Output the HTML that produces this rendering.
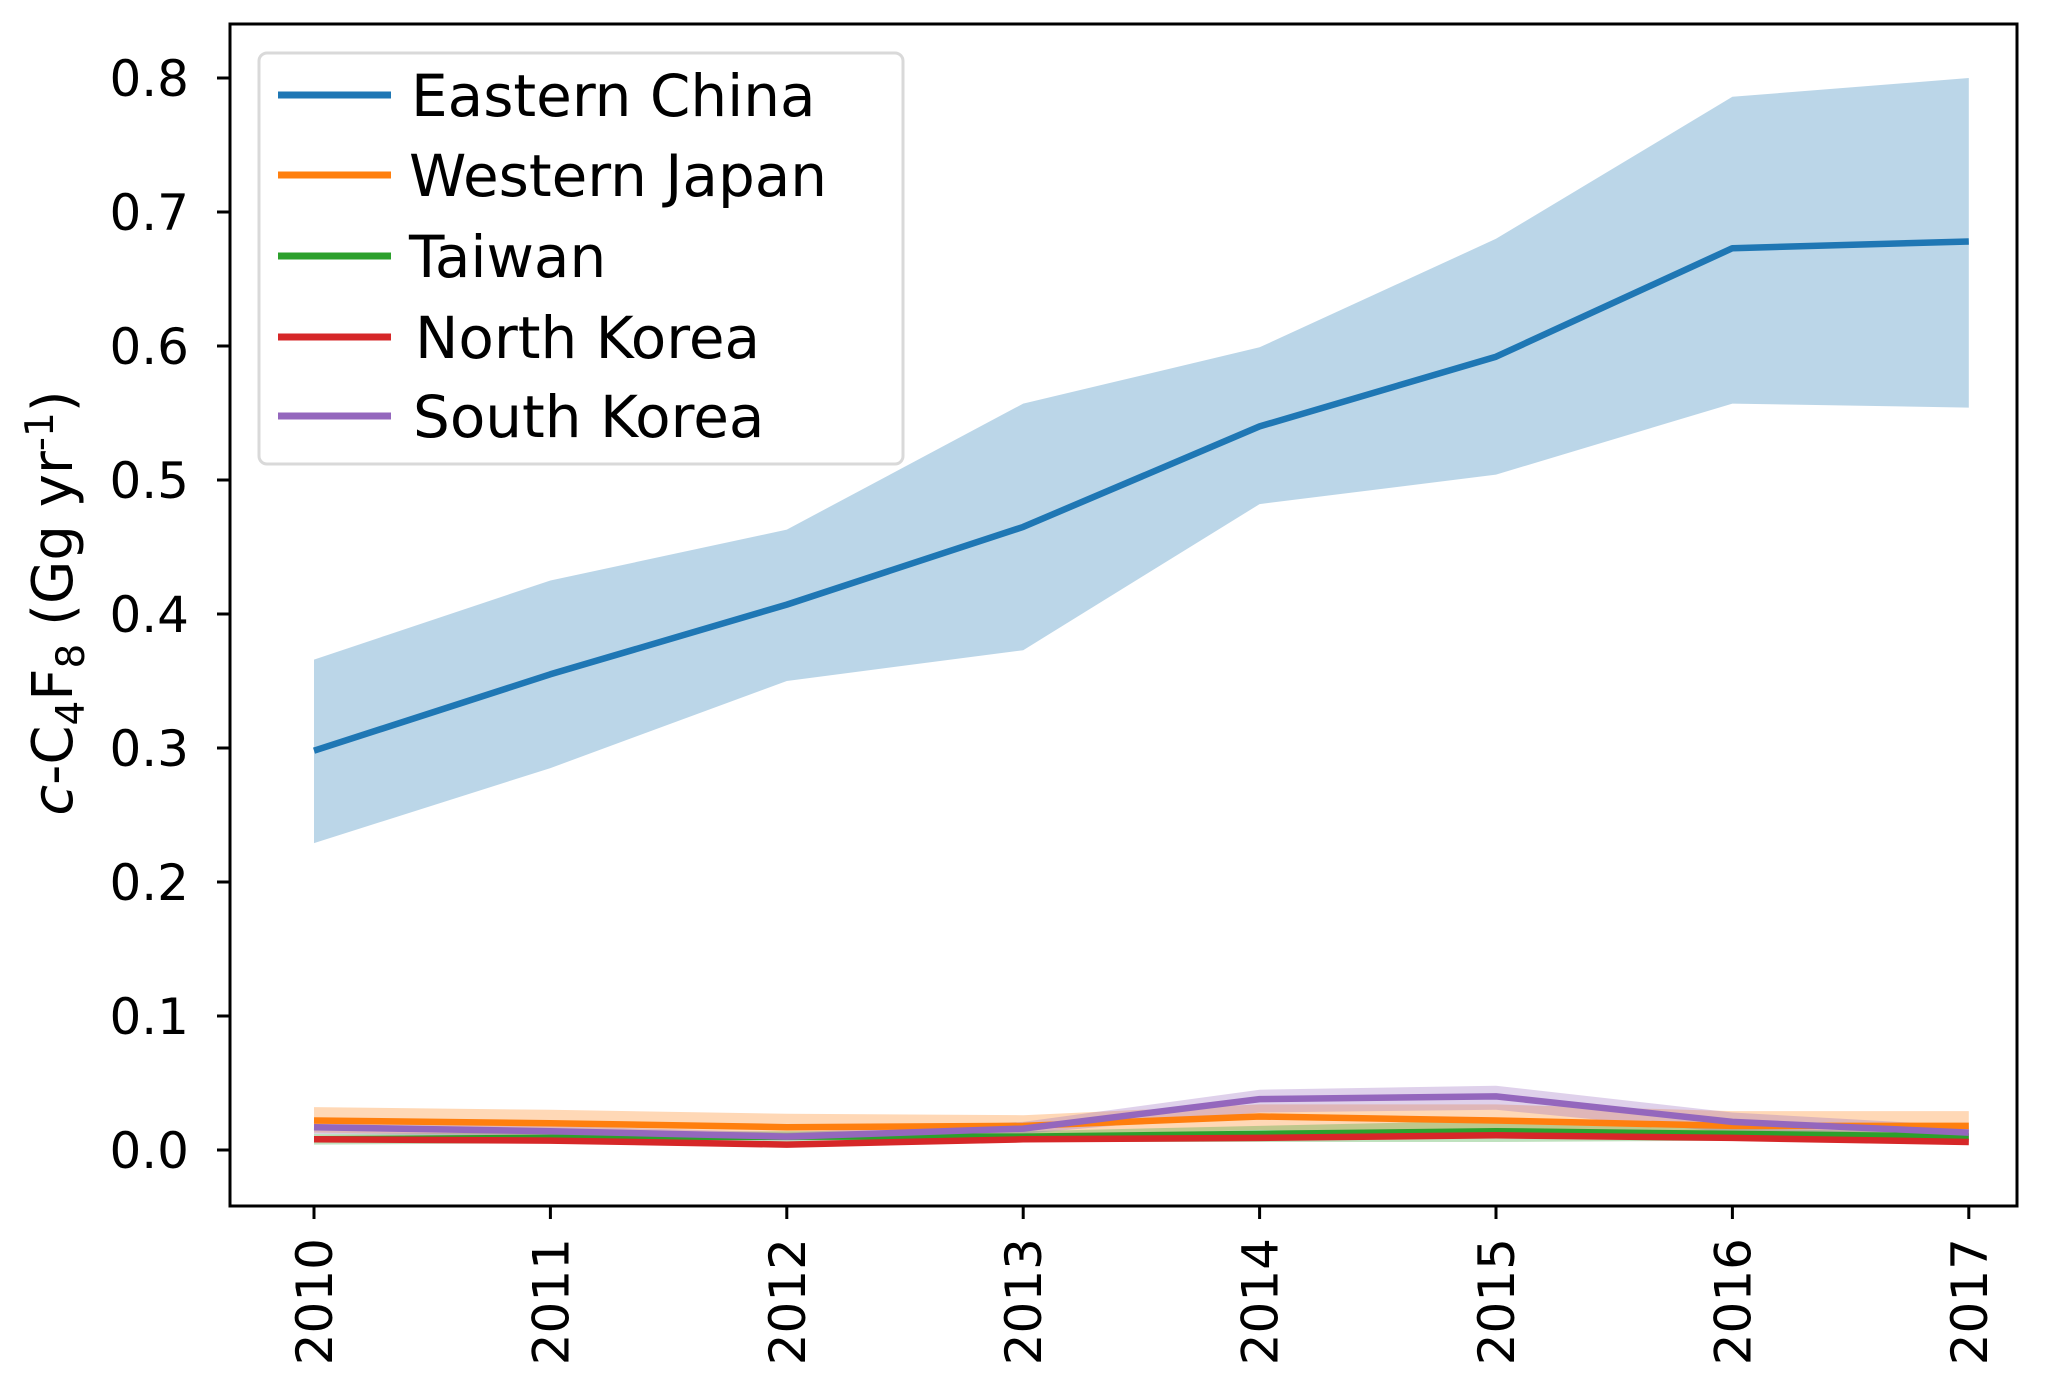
<!DOCTYPE html>
<html><head><meta charset="utf-8"><style>
html,body{margin:0;padding:0;background:#fff;}
svg{display:block;font-family:"DejaVu Sans","Liberation Sans",sans-serif;}
</style></head><body>
<svg id="chart" width="2067" height="1396" viewBox="0 0 2067 1396">
<g id="plot"></g>
</svg>
<script>
const years = [2010,2011,2012,2013,2014,2015,2016,2017];
const yTicks = [0.0,0.1,0.2,0.3,0.4,0.5,0.6,0.7,0.8];
const yTickLabels = ["0.0","0.1","0.2","0.3","0.4","0.5","0.6","0.7","0.8"];
const seriesNames = ["Eastern China","Western Japan","Taiwan","North Korea","South Korea"];
const chinaMean = [0.298,0.355,0.407,0.465,0.540,0.592,0.673,0.678];
const chinaUpper = [0.366,0.425,0.463,0.557,0.599,0.680,0.786,0.800];
const chinaLower = [0.229,0.285,0.350,0.373,0.482,0.504,0.557,0.554];
const japanMean = [0.022,0.020,0.017,0.018,0.025,0.022,0.018,0.018];
const japanUpper = [0.032,0.030,0.027,0.026,0.034,0.034,0.029,0.029];
const japanLower = [0.013,0.011,0.008,0.010,0.015,0.012,0.008,0.008];
const taiwanMean = [0.008,0.009,0.010,0.010,0.012,0.014,0.012,0.010];
const taiwanUpper = [0.012,0.013,0.014,0.014,0.018,0.022,0.016,0.013];
const taiwanLower = [0.004,0.005,0.006,0.006,0.006,0.006,0.007,0.006];
const nkMean = [0.008,0.007,0.004,0.008,0.009,0.011,0.009,0.006];
const nkUpper = [0.010,0.009,0.006,0.010,0.011,0.013,0.011,0.008];
const nkLower = [0.006,0.005,0.002,0.006,0.007,0.009,0.007,0.004];
const skMean = [0.017,0.014,0.010,0.016,0.038,0.040,0.021,0.013];
const skUpper = [0.021,0.018,0.013,0.021,0.045,0.048,0.028,0.018];
const skLower = [0.012,0.010,0.007,0.012,0.028,0.030,0.013,0.008];

const NS="http://www.w3.org/2000/svg";
const L=230,R=2017,T=24,B=1206;
const x0=314,xStep=236.4;
const xs=i=>x0+i*xStep;
const ys=v=>1150-v*1340;
const plot=document.getElementById('plot');
function el(tag,attrs,parent){const e=document.createElementNS(NS,tag);for(const k in attrs)e.setAttribute(k,attrs[k]);(parent||plot).appendChild(e);return e;}
function lineD(arr){return arr.map((v,i)=>(i?'L':'M')+xs(i).toFixed(1)+','+ys(v).toFixed(1)).join(' ');}
function bandD(up,lo){let d=lineD(up);for(let i=lo.length-1;i>=0;i--)d+=' L'+xs(i).toFixed(1)+','+ys(lo[i]).toFixed(1);return d+' Z';}

const colors=["#1f77b4","#ff7f0e","#2ca02c","#d62728","#9467bd"];
const means=[chinaMean,japanMean,taiwanMean,nkMean,skMean];
const uppers=[chinaUpper,japanUpper,taiwanUpper,nkUpper,skUpper];
const lowers=[chinaLower,japanLower,taiwanLower,nkLower,skLower];
const keys=["eastern-china","western-japan","taiwan","north-korea","south-korea"];

for(let s=0;s<5;s++){
  const b=el('path',{d:bandD(uppers[s],lowers[s]),fill:colors[s],'fill-opacity':0.3,stroke:'none'});
  
  
}
for(let s=0;s<5;s++){
  const p=el('path',{d:lineD(means[s]),fill:'none',stroke:colors[s],'stroke-width':6.5,'stroke-linejoin':'round'});
  
  
}

const frame=el('rect',{x:L,y:T,width:R-L,height:B-T,fill:'none',stroke:'#000','stroke-width':3});



yTicks.forEach((v,i)=>{
  const y=ys(v);
  const t=el('line',{x1:L-13,x2:L,y1:y,y2:y,stroke:'#000','stroke-width':3});
  
  
  const lb=el('text',{x:189,y:y+18,'text-anchor':'end','font-size':50,fill:'#000'});
  lb.textContent=yTickLabels[i];
  
  
});
years.forEach((yr,i)=>{
  const x=xs(i);
  const t=el('line',{x1:x,x2:x,y1:B,y2:B+13,stroke:'#000','stroke-width':3});
  
  
  const lb=el('text',{x:0,y:0,'text-anchor':'end','font-size':50,fill:'#000',transform:`translate(${x+18},1238) rotate(-90)`});
  lb.textContent=yr;
  
  
});

const yt=el('text',{x:0,y:0,'text-anchor':'middle','font-size':56,fill:'#000',transform:'translate(72,603) rotate(-90)'});
yt.innerHTML='<tspan font-style="italic">c</tspan>-C<tspan font-size="39" dy="12">4</tspan><tspan dy="-12">F</tspan><tspan font-size="39" dy="12">8</tspan><tspan dy="-12"> (Gg yr</tspan><tspan font-size="39" dy="-19">-1</tspan><tspan dy="19">)</tspan>';



const leg=el('g',{});


el('rect',{x:259,y:53,width:644,height:411,rx:8,fill:'#fff','fill-opacity':0.8,stroke:'#d9d9d9','stroke-width':3},leg);
const rowsY=[95,175,256,337,416];
const textX=[411,409,409,415,413];
seriesNames.forEach((n,i)=>{
  const g=el('g',{},leg);
  
  
  el('line',{x1:278,x2:391,y1:rowsY[i],y2:rowsY[i],stroke:colors[i],'stroke-width':7},g);
  const tx=el('text',{x:textX[i],y:rowsY[i]+21,'font-size':58,fill:'#000'},g);
  tx.textContent=n;
});
</script>
</body></html>
